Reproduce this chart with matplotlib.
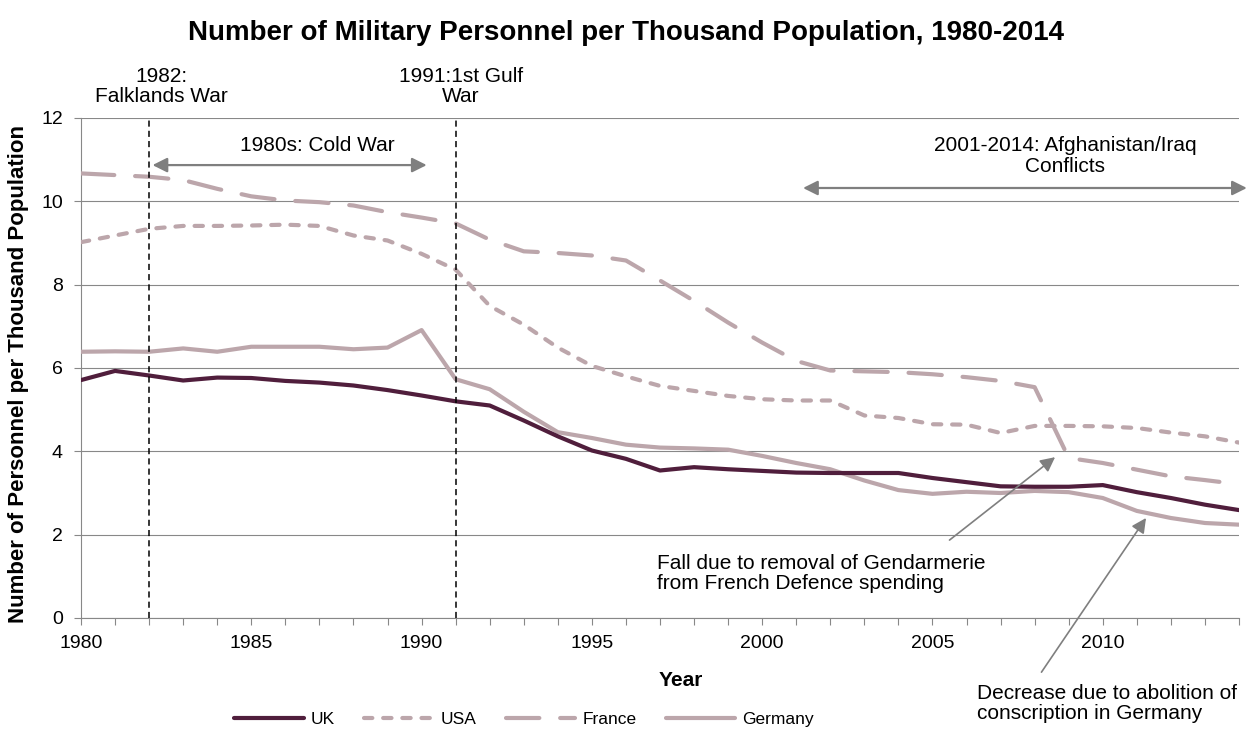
import matplotlib
matplotlib.use("Agg")
import matplotlib.pyplot as plt

plt.rcParams['font.family'] = ['Liberation Sans', 'DejaVu Sans']

years = list(range(1980, 2015))

uk = [5.71, 5.93, 5.82, 5.70, 5.77, 5.76, 5.69, 5.65, 5.58, 5.47,
      5.34, 5.20, 5.10, 4.74, 4.36, 4.02, 3.82, 3.54, 3.62, 3.57,
      3.53, 3.49, 3.48, 3.48, 3.48, 3.36, 3.26, 3.16, 3.15, 3.15,
      3.19, 3.02, 2.88, 2.72, 2.59]

usa = [9.02, 9.18, 9.34, 9.41, 9.41, 9.42, 9.44, 9.41, 9.18, 9.06,
       8.74, 8.36, 7.49, 7.04, 6.49, 6.05, 5.80, 5.57, 5.45, 5.33,
       5.25, 5.22, 5.22, 4.86, 4.80, 4.65, 4.64, 4.44, 4.61, 4.61,
       4.60, 4.56, 4.45, 4.36, 4.21]

france = [10.67, 10.63, 10.59, 10.51, 10.30, 10.12, 10.02, 9.98, 9.90, 9.74,
          9.61, 9.47, 9.08, 8.80, 8.76, 8.70, 8.58, 8.10, 7.61, 7.09,
          6.61, 6.17, 5.94, 5.92, 5.90, 5.85, 5.78, 5.69, 5.54, 3.84,
          3.72, 3.56, 3.40, 3.31, 3.21]

germany = [6.39, 6.40, 6.39, 6.47, 6.39, 6.51, 6.51, 6.51, 6.45, 6.49,
           6.91, 5.73, 5.49, 4.95, 4.46, 4.32, 4.16, 4.09, 4.07, 4.04,
           3.89, 3.72, 3.57, 3.30, 3.07, 2.98, 3.03, 3.00, 3.05, 3.02,
           2.88, 2.57, 2.40, 2.28, 2.24]

y_ticks = [0, 2, 4, 6, 8, 10, 12]
x_label_years = [1980, 1985, 1990, 1995, 2000, 2005, 2010]

DARK = '#501E3C'
LIGHT = '#BCA6AB'
GRID = '#888888'
ARROW = '#7F7F7F'

W, H = 1252, 729
fig = plt.figure(figsize=(W / 100, H / 100), dpi=100)
ax = fig.add_axes([81 / W, (H - 618) / H, (1239 - 81) / W, (618 - 118) / H])

lw = 3.0
ax.plot(years, uk, color=DARK, lw=lw, solid_capstyle='round',
        solid_joinstyle='round', label='UK', zorder=3)
ax.plot(years, usa, color=LIGHT, lw=lw, ls=(0, (2.0, 2.6)),
        dash_capstyle='round', dash_joinstyle='round', label='USA', zorder=3)
ax.plot(years, france, color=LIGHT, lw=lw, ls=(0, (8.0, 5.0)),
        dash_capstyle='round', dash_joinstyle='round', label='France', zorder=3)
ax.plot(years, germany, color=LIGHT, lw=lw, solid_capstyle='round',
        solid_joinstyle='round', label='Germany', zorder=2.9)

ax.set_xlim(1980, 2014)
ax.set_ylim(0, 12)
ax.set_yticks(y_ticks)
ax.set_yticklabels([str(v) for v in y_ticks])
ax.set_xticks(years)
ax.set_xticklabels([str(y) if y in x_label_years else '' for y in years])

ax.grid(axis='y', color=GRID, lw=0.8, zorder=0)
ax.set_axisbelow(True)
for side in ('top', 'right'):
    ax.spines[side].set_visible(False)
for side in ('left', 'bottom'):
    ax.spines[side].set_color(GRID)
    ax.spines[side].set_linewidth(0.8)
ax.tick_params(axis='x', direction='out', length=5, width=0.8, color=GRID,
               labelsize=14, pad=7)
ax.tick_params(axis='y', direction='out', length=5, width=0.8, color=GRID,
               labelsize=14, pad=8)

# Conflict marker lines
for yr in (1982, 1991):
    ax.axvline(yr, color='black', lw=1.1, ls=(0, (4, 2.7)), zorder=4)

txt = dict(fontsize=15, color='black')
ax.text(1982.35, 12.76, '1982:\nFalklands War', ha='center', va='center',
        linespacing=1.1, clip_on=False, **txt)
ax.text(1991.15, 12.76, '1991:1st Gulf\nWar', ha='center', va='center',
        linespacing=1.1, clip_on=False, **txt)
ax.text(1986.95, 11.35, '1980s: Cold War', ha='center', va='center', **txt)
ax.text(2008.9, 11.09, '2001-2014: Afghanistan/Iraq\nConflicts', ha='center',
        va='center', linespacing=1.1, clip_on=False, **txt)

arrow2 = dict(arrowstyle='<|-|>', color=ARROW, lw=1.6, mutation_scale=22,
              shrinkA=0, shrinkB=0)
ax.annotate('', xy=(1982.1, 10.87), xytext=(1990.15, 10.87),
            arrowprops=arrow2, annotation_clip=False)
ax.annotate('', xy=(2001.2, 10.32), xytext=(2014.23, 10.32),
            arrowprops=arrow2, annotation_clip=False)

arrow1 = dict(arrowstyle='-|>', color=ARROW, lw=1.2, mutation_scale=22,
              shrinkA=0, shrinkB=0)
ax.annotate('', xy=(2008.6, 3.86), xytext=(2005.5, 1.87),
            arrowprops=arrow1, annotation_clip=False)
ax.text(1996.9, 1.07, 'Fall due to removal of Gendarmerie\nfrom French Defence spending',
        ha='left', va='center', linespacing=1.1, **txt)

ax.annotate('', xy=(2011.27, 2.40), xytext=(2008.2, -1.30),
            arrowprops=arrow1, annotation_clip=False)
ax.text(2006.3, -2.05, 'Decrease due to abolition of\nconscription in Germany',
        ha='left', va='center', linespacing=1.1, clip_on=False, **txt)

fig.text(0.5, 1 - 33 / H, 'Number of Military Personnel per Thousand Population, 1980-2014',
         ha='center', va='center', fontsize=20, fontweight='bold')
fig.text(681 / W, 1 - 680 / H, 'Year', ha='center', va='center',
         fontsize=15, fontweight='bold')
fig.text(19 / W, 1 - 374 / H, 'Number of Personnel per Thousand Population',
         ha='center', va='center', rotation=90, fontsize=16, fontweight='bold')

fig.legend(loc='center', bbox_to_anchor=(524 / W, 1 - 719 / H), ncol=4,
           frameon=False, fontsize=12.5, handlelength=4.0, handletextpad=0.4,
           columnspacing=1.7)

fig.savefig('out.png', dpi=100)
